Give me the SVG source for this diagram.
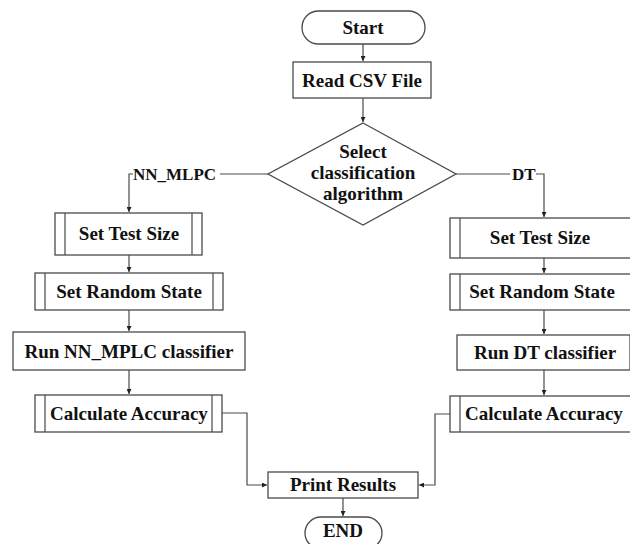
<svg xmlns="http://www.w3.org/2000/svg" width="630" height="544" viewBox="0 0 630 544">
<style>
.b{fill:#fff;stroke:#4a4a4a;stroke-width:1.3}
.in{stroke:#4a4a4a;stroke-width:1.2;fill:none}
.t{font-family:"Liberation Serif","Times New Roman",serif;font-weight:bold;font-size:19px;fill:#111;text-anchor:middle}
.l{font-family:"Liberation Serif","Times New Roman",serif;font-weight:bold;font-size:17px;fill:#111}
.c{fill:none;stroke:#4a4a4a;stroke-width:1.2}
</style>
<defs>
<marker id="a" viewBox="0 0 10 10" refX="10" refY="5" markerWidth="5" markerHeight="5" orient="auto" markerUnits="userSpaceOnUse">
<path d="M0,0 L10,5 L0,10 z" fill="#222"/>
</marker>
</defs>
<rect width="630" height="544" fill="#fff"/>
<g id="connectors">
<path class="c" d="M363,44 V61" marker-end="url(#a)"/>
<path class="c" d="M363,98 V122" marker-end="url(#a)"/>
<path class="c" d="M268,174 H220"/>
<path class="c" d="M133,174 H129 V212" marker-end="url(#a)"/>
<path class="c" d="M456,174 H510"/>
<path class="c" d="M536,174 H544 V217" marker-end="url(#a)"/>
<path class="c" d="M129,255 V272" marker-end="url(#a)"/>
<path class="c" d="M129,310 V331" marker-end="url(#a)"/>
<path class="c" d="M129,370 V394" marker-end="url(#a)"/>
<path class="c" d="M544,258 V273" marker-end="url(#a)"/>
<path class="c" d="M544,310 V334" marker-end="url(#a)"/>
<path class="c" d="M544,370 V395" marker-end="url(#a)"/>
<path class="c" d="M222,413 H247 V485 H267" marker-end="url(#a)"/>
<path class="c" d="M450,414 H435 V485 H419" marker-end="url(#a)"/>
<path class="c" d="M343,498 V516" marker-end="url(#a)"/>
<text class="l" x="133" y="180">NN_MLPC</text>
<text class="l" x="512" y="180">DT</text>
</g>
<g id="start">
<rect class="b" x="302" y="11" width="123" height="33" rx="16.5"/>
<text class="t" x="363" y="34">Start</text>
</g>
<g id="read">
<rect class="b" x="293" y="62" width="138" height="36"/>
<text class="t" x="362" y="87">Read CSV File</text>
</g>
<g id="decision">
<polygon class="b" points="363,123 456,174 363,225 268,174"/>
<text class="t" x="363" y="158">Select</text>
<text class="t" x="363" y="179">classification</text>
<text class="t" x="363" y="200">algorithm</text>
</g>
<g id="l_testsize">
<rect class="b" x="55" y="213" width="147" height="42"/>
<path class="in" d="M65,213 V255 M192,213 V255"/>
<text class="t" x="129" y="240">Set Test Size</text>
</g>
<g id="l_random">
<rect class="b" x="35" y="273" width="188" height="37"/>
<path class="in" d="M45,273 V310 M213,273 V310"/>
<text class="t" x="129" y="298">Set Random State</text>
</g>
<g id="l_run">
<rect class="b" x="13" y="332" width="232" height="38"/>
<text class="t" x="129" y="358">Run NN_MPLC classifier</text>
</g>
<g id="l_acc">
<rect class="b" x="35" y="395" width="187" height="37"/>
<path class="in" d="M45,395 V432 M212,395 V432"/>
<text class="t" x="129" y="420">Calculate Accuracy</text>
</g>
<g id="r_testsize">
<rect class="b" x="450" y="218" width="190" height="40"/>
<path class="in" d="M460,218 V258"/>
<text class="t" x="540" y="244">Set Test Size</text>
</g>
<g id="r_random">
<rect class="b" x="450" y="274" width="190" height="36"/>
<path class="in" d="M460,274 V310"/>
<text class="t" x="542" y="298">Set Random State</text>
</g>
<g id="r_run">
<rect class="b" x="457" y="335" width="173" height="35"/>
<text class="t" x="545" y="359">Run DT classifier</text>
</g>
<g id="r_acc">
<rect class="b" x="450" y="396" width="190" height="36"/>
<path class="in" d="M460,396 V432"/>
<text class="t" x="544" y="420">Calculate Accuracy</text>
</g>
<g id="print">
<rect class="b" x="268" y="472" width="150" height="26"/>
<text class="t" x="343" y="491">Print Results</text>
</g>
<g id="end">
<rect class="b" x="305" y="517" width="77" height="32" rx="16"/>
<text class="t" x="343" y="537">END</text>
</g>
</svg>
